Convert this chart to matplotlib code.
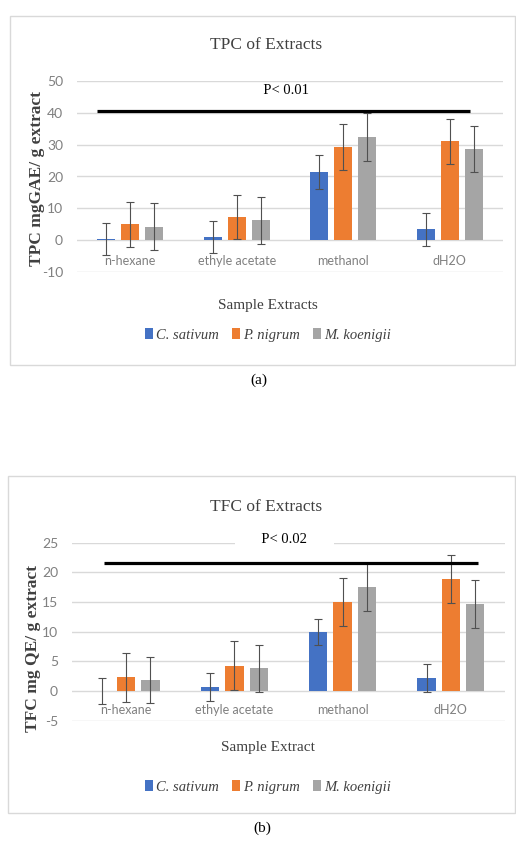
import numpy as np
import matplotlib
matplotlib.use("Agg")
import matplotlib.pyplot as plt
from matplotlib.patches import Rectangle

plt.rcParams["axes.unicode_minus"] = False

# categories / series
extracts = ["n-hexane", "ethyle acetate", "methanol", "dH2O"]
species = ["C. sativum", "P. nigrum", "M. koenigii"]
colors = ["#4472C4", "#ED7D31", "#A5A5A5"]

# (a) TPC mgGAE/ g extract
tpc_sativum = [0.4, 1.0, 21.5, 3.4]
tpc_nigrum = [5.0, 7.3, 29.3, 31.0]
tpc_koenigii = [4.2, 6.2, 32.3, 28.7]
tpc_err_sativum = [5.0, 5.0, 5.3, 5.2]
tpc_err_nigrum = [7.0, 7.0, 7.2, 7.2]
tpc_err_koenigii = [7.4, 7.5, 7.5, 7.3]

# (b) TFC mg QE/ g extract
tfc_sativum = [0.05, 0.7, 10.0, 2.2]
tfc_nigrum = [2.3, 4.3, 15.0, 18.9]
tfc_koenigii = [1.9, 3.8, 17.5, 14.7]
tfc_err_sativum = [2.2, 2.3, 2.2, 2.3]
tfc_err_nigrum = [4.1, 4.1, 4.1, 4.0]
tfc_err_koenigii = [3.9, 4.0, 4.0, 4.0]

serif = ["Liberation Serif", "DejaVu Serif"]
narrow = ["Lato", "Liberation Sans", "DejaVu Sans"]
W, H = 516, 842


def fx(px):
    return px / W


def fy(py):
    return 1 - py / H


def draw_panel(ax, means, errs, ylim, yticks, sig_x, sig_y, p_text, p_xy):
    x = np.arange(len(extracts))
    step = 0.225
    bars = []
    for i, (m, e) in enumerate(zip(means, errs)):
        b = ax.bar(x + (i - 1) * step, m, width=0.17, color=colors[i],
                   yerr=e, capsize=3,
                   error_kw=dict(ecolor="#505050", elinewidth=0.8, capthick=0.8),
                   label=species[i], zorder=3)
        bars.append(b)
    ax.set_ylim(*ylim)
    ax.set_xlim(-0.5, len(extracts) - 0.5)
    ax.set_yticks(yticks)
    ax.yaxis.grid(True, color="#d9d9d9", linewidth=1)
    ax.set_axisbelow(True)
    for s in ax.spines.values():
        s.set_visible(False)
    ax.set_xticks(x, extracts)
    ax.tick_params(axis="both", length=0, colors="#808080")
    ax.tick_params(axis="x", pad=-12, labelsize=9)
    ax.tick_params(axis="y", pad=10, labelsize=10)
    for lab in ax.get_xticklabels() + ax.get_yticklabels():
        lab.set_family(narrow)
    # significance line
    ax.plot(sig_x, [sig_y, sig_y], color="black", linewidth=2.3, zorder=4,
            solid_capstyle="butt")
    ax.text(p_xy[0], p_xy[1], "       " + p_text + "       ", ha="center", va="center",
            fontsize=10.5, family=serif, zorder=5,
            bbox=dict(facecolor="white", edgecolor="none", pad=1))
    return bars


fig = plt.figure(figsize=(W / 100, H / 100), dpi=100)

# panel frames
fig.add_artist(Rectangle((fx(10), fy(365)), fx(505), 349 / H, transform=fig.transFigure,
                         fill=False, edgecolor="#d9d9d9", linewidth=1))
fig.add_artist(Rectangle((fx(8), fy(813)), fx(507), 337 / H, transform=fig.transFigure,
                         fill=False, edgecolor="#d9d9d9", linewidth=1))

# (a)
ax1 = fig.add_axes([fx(77), fy(272), fx(426), 191 / H])
bars1 = draw_panel(ax1, [tpc_sativum, tpc_nigrum, tpc_koenigii],
                   [tpc_err_sativum, tpc_err_nigrum, tpc_err_koenigii],
                   (-10, 50), [-10, 0, 10, 20, 30, 40, 50],
                   [-0.31, 3.19], 40.5, "P< 0.01", (1.46, 46.9))
fig.text(fx(266), fy(45), "TPC of Extracts", ha="center", va="center",
         fontsize=12.5, family=serif, color="#404040")
fig.text(fx(37), fy(178), "TPC mgGAE/ g extract", ha="center", va="center",
         rotation=90, fontsize=12.5, fontweight="bold", family=serif, color="#404040")
fig.text(fx(268), fy(305), "Sample Extracts", ha="center", va="center",
         fontsize=11, family=serif, color="#404040")
fig.legend(handles=bars1, loc="center", bbox_to_anchor=(fx(268), fy(335)), ncol=3,
           frameon=False, handlelength=0.55, handleheight=0.7, handletextpad=0.2,
           columnspacing=0.9, prop=dict(family=serif, style="italic", size=10.5),
           labelcolor="#404040")
fig.text(fx(259), fy(380), "(a)", ha="center", va="center", fontsize=11, family=serif)

# (b)
ax2 = fig.add_axes([fx(72), fy(720.7), fx(433), 178 / H])
bars2 = draw_panel(ax2, [tfc_sativum, tfc_nigrum, tfc_koenigii],
                   [tfc_err_sativum, tfc_err_nigrum, tfc_err_koenigii],
                   (-5, 25), [-5, 0, 5, 10, 15, 20, 25],
                   [-0.2, 3.25], 21.6, "P< 0.02", (1.46, 25.6))
fig.text(fx(266), fy(507), "TFC of Extracts", ha="center", va="center",
         fontsize=12.5, family=serif, color="#404040")
fig.text(fx(33), fy(648), "TFC mg QE/ g extract", ha="center", va="center",
         rotation=90, fontsize=12.5, fontweight="bold", family=serif, color="#404040")
fig.text(fx(268), fy(747), "Sample Extract", ha="center", va="center",
         fontsize=11, family=serif, color="#404040")
fig.legend(handles=bars2, loc="center", bbox_to_anchor=(fx(268), fy(787)), ncol=3,
           frameon=False, handlelength=0.55, handleheight=0.7, handletextpad=0.2,
           columnspacing=0.9, prop=dict(family=serif, style="italic", size=10.5),
           labelcolor="#404040")
fig.text(fx(262), fy(828), "(b)", ha="center", va="center", fontsize=11, family=serif)

fig.savefig("out.png", dpi=100)
